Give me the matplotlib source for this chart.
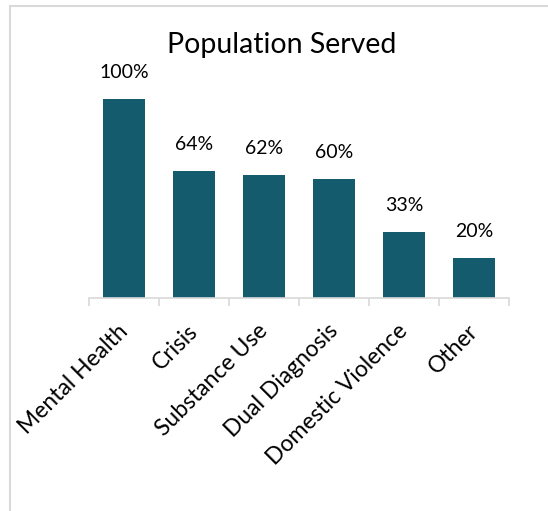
import matplotlib.pyplot as plt
import numpy as np
from matplotlib.patches import Rectangle
from matplotlib.transforms import ScaledTranslation

categories = ['Mental Health', 'Crisis', 'Substance Use', 'Dual Diagnosis',
              'Domestic Violence', 'Other']
percent_served = [100, 64, 62, 60, 33, 20]

plt.rcParams['font.family'] = ['Lato', 'DejaVu Sans']

fig = plt.figure(figsize=(5.48, 5.11), dpi=100)
ax = fig.add_axes([89 / 548, 1 - 298 / 511, 420 / 548, 199 / 511])

x = np.arange(len(categories))
ax.bar(x, percent_served, width=0.61, color='#155B6E')

for xi, v in zip(x, percent_served):
    ax.text(xi, v + 9, f'{v}%', ha='center', va='bottom', fontsize=14, clip_on=False)

ax.set_xlim(-0.5, len(categories) - 0.5)
ax.set_ylim(0, 100)
ax.set_yticks([])
for s in ['top', 'right', 'left']:
    ax.spines[s].set_visible(False)
ax.spines['bottom'].set_color('#D9D9D9')
ax.spines['bottom'].set_linewidth(1.2)

ax.set_xticks(x)
ax.set_xticklabels(categories, rotation=45, ha='right', rotation_mode='anchor', fontsize=16.5)
ax.tick_params(axis='x', which='major', length=0, pad=16)
ax.set_xticks(np.arange(len(categories) + 1) - 0.5, minor=True)
ax.tick_params(axis='x', which='minor', length=6, color='#D9D9D9', width=1.2)
shift = ScaledTranslation(-5 / 72, 0, fig.dpi_scale_trans)
for lab in ax.get_xticklabels():
    lab.set_transform(lab.get_transform() + shift)

fig.text(282 / 548, 1 - 45 / 511, 'Population Served', ha='center', va='center', fontsize=20.5)

# chart border, cut off on the right and bottom
fig.add_artist(Rectangle((10 / 548, -0.1), 1.2, 1.1 - 6 / 511, fill=False,
                         edgecolor='#D9D9D9', linewidth=1.5, transform=fig.transFigure))

fig.savefig('out.png', dpi=100)
